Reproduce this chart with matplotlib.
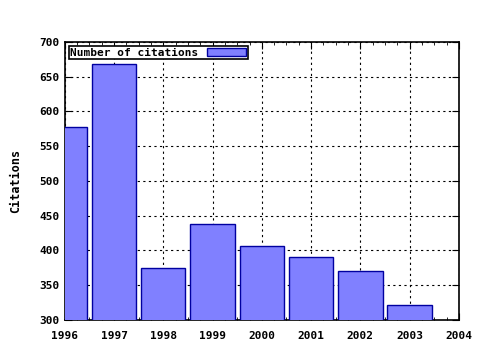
import matplotlib
matplotlib.use('Agg')
import matplotlib.pyplot as plt
from matplotlib.ticker import MultipleLocator

# 데이터
years = [1996, 1997, 1998, 1999, 2000, 2001, 2002, 2003]
citations = [578, 668, 375, 438, 406, 391, 370, 322]
label = 'Number of citations'

plt.rcParams['font.family'] = 'DejaVu Sans Mono'
plt.rcParams['font.weight'] = 'bold'
plt.rcParams['font.size'] = 8

fig = plt.figure(figsize=(4.8, 3.5), dpi=100)
ax = fig.add_axes([0.135, 0.086, 0.821, 0.794])

ax.bar(years, citations, width=0.9, color='#8080ff', edgecolor='#0000a0',
       linewidth=1.0, label=label, zorder=3)

ax.set_xlim(1996, 2004)
ax.set_ylim(300, 700)
ax.xaxis.set_major_locator(MultipleLocator(1))
ax.xaxis.set_minor_locator(MultipleLocator(0.25))
ax.yaxis.set_major_locator(MultipleLocator(50))
ax.tick_params(which='both', direction='in', top=True, right=True)
ax.tick_params(which='major', length=5, labelsize=8)
ax.tick_params(which='minor', length=2.5)
ax.tick_params(axis='x', which='major', pad=8)
ax.grid(True, which='major', color='black', linestyle=(0, (2, 3)), linewidth=0.8, zorder=0)
ax.set_axisbelow(True)
for s in ax.spines.values():
    s.set_linewidth(1.2)

ax.set_ylabel('Citations', fontsize=8.5, fontweight='bold', labelpad=13)

leg = ax.legend(loc='upper left', frameon=True, fancybox=False, edgecolor='black',
                markerfirst=False, handlelength=3.5, handleheight=0.8,
                borderpad=0.15, borderaxespad=0.35, handletextpad=0.8,
                prop={'family': 'DejaVu Sans Mono', 'weight': 'bold', 'size': 8})
leg.get_frame().set_linewidth(1.2)
leg.get_frame().set_alpha(1)

fig.savefig('out.png', dpi=100)
